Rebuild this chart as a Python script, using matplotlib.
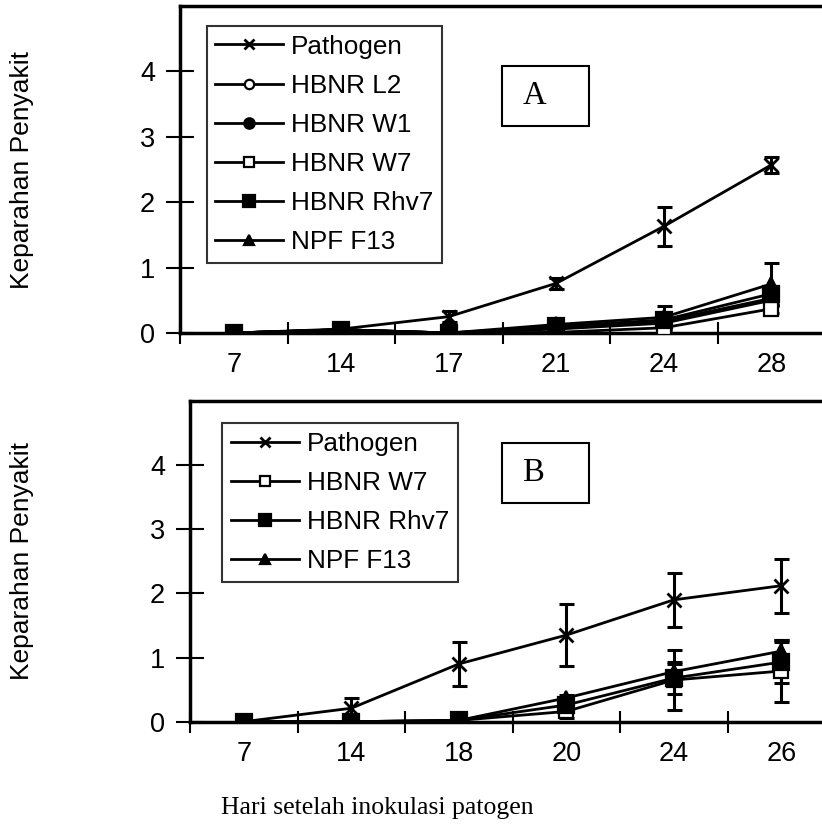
"""Keparahan penyakit vs hari setelah inokulasi patogen, dua panel (A, B)."""
import numpy as np
import matplotlib
matplotlib.use("Agg")
import matplotlib.pyplot as plt
from matplotlib.patches import Rectangle

plt.rcParams["font.family"] = ["Liberation Sans", "DejaVu Sans"]

# ---- panel A data ----
days_a = ["7", "14", "17", "21", "24", "28"]
pathogen_a = [0, 0.06, 0.25, 0.76, 1.63, 2.57]
pathogen_a_err = [0, 0.02, 0.08, 0.08, 0.30, 0.12]
l2_a = [0, 0.05, 0, 0.06, 0.15, 0.50]
l2_a_err = [0, 0, 0, 0.04, 0.06, 0.08]
w1_a = [0, 0.05, 0, 0.09, 0.18, 0.53]
w1_a_err = [0, 0, 0, 0.05, 0.08, 0.10]
w7_a = [0, 0.05, 0, 0.01, 0.08, 0.37]
w7_a_err = [0, 0, 0, 0.02, 0.04, 0.06]
rhv7_a = [0, 0.05, 0, 0.10, 0.20, 0.60]
rhv7_a_err = [0, 0, 0, 0.05, 0.08, 0.12]
f13_a = [0, 0.05, 0, 0.13, 0.24, 0.75]
f13_a_err = [0, 0, 0, 0.06, 0.18, 0.32]

# ---- panel B data ----
days_b = ["7", "14", "18", "20", "24", "26"]
pathogen_b = [0, 0.21, 0.90, 1.35, 1.90, 2.12]
pathogen_b_err = [0, 0.16, 0.35, 0.48, 0.42, 0.42]
w7_b = [0, 0, 0.02, 0.16, 0.65, 0.79]
w7_b_err = [0, 0, 0, 0.10, 0.47, 0.48]
rhv7_b = [0, 0, 0.02, 0.26, 0.68, 0.93]
rhv7_b_err = [0, 0, 0, 0.08, 0.25, 0.32]
f13_b = [0, 0, 0.02, 0.37, 0.78, 1.10]
f13_b_err = [0, 0, 0, 0.05, 0.12, 0.18]

STYLE = {  # marker, facecolor, size
    "Pathogen": ("x", "black", 10.5),
    "HBNR L2": ("o", "white", 9),
    "HBNR W1": ("o", "black", 10),
    "HBNR W7": ("s", "white", 10),
    "HBNR Rhv7": ("s", "black", 11),
    "NPF F13": ("^", "black", 10.5),
}


def draw_panel(ax, days, series, letter, leg_anchor, box_xy):
    x = np.arange(len(days))
    handles = []
    for name, (vals, err) in series.items():
        mk, fc, ms = STYLE[name]
        h, = ax.plot(x, vals, color="black", lw=2, marker=mk, ms=ms,
                     mfc=fc, mec="black", mew=1.6 if mk != "x" else 2,
                     label=name, zorder=3)
        handles.append(h)
        err = np.asarray(err)
        keep = err > 0
        ax.errorbar(x[keep], np.asarray(vals)[keep], yerr=err[keep], fmt="none",
                    ecolor="black", elinewidth=2.2, capsize=5.4, capthick=2.2,
                    zorder=2)
    ax.set_xlim(-0.5, len(days) - 0.5)
    ax.set_ylim(0, 5)
    ax.set_yticks([0, 1, 2, 3, 4])
    ax.set_xticks(np.arange(len(days) + 1) - 0.5)
    ax.set_xticklabels([])
    ax.set_xticks(x, minor=True)
    ax.set_xticklabels(days, minor=True)
    ax.tick_params(axis="x", which="major", direction="inout", length=16, width=1.5)
    ax.tick_params(axis="x", which="minor", length=0, pad=14, labelsize=19.5)
    ax.tick_params(axis="y", direction="inout", length=20, width=1.5, pad=8,
                   labelsize=19.5)
    for s in ax.spines.values():
        s.set_linewidth(2.5)
    leg = ax.legend(handles=handles, loc="upper left", bbox_to_anchor=leg_anchor,
                    bbox_transform=ax.figure.transFigure, fontsize=18.8,
                    frameon=True, fancybox=False, edgecolor="black",
                    handlelength=2.6, handletextpad=0.3, labelspacing=0.58,
                    borderpad=0.33, markerscale=0.75, borderaxespad=0)
    leg.get_frame().set_linewidth(1.5)
    fig = ax.figure
    W, H = fig.get_size_inches() * fig.dpi
    x0, y0, x1, y1 = box_xy
    fig.add_artist(Rectangle((x0 / W, 1 - y1 / H), (x1 - x0) / W, (y1 - y0) / H,
                             transform=fig.transFigure, fill=False,
                             edgecolor="black", lw=1.5))
    fig.text((x0 + 21) / W, 1 - (y0 + y1) / 2 / H, letter, ha="left", va="center",
             fontsize=23.5, family="Liberation Serif")


fig = plt.figure(figsize=(8.22, 8.25), dpi=100)
ax_a = fig.add_axes([180 / 822, 1 - 333 / 825, 645 / 822, 327 / 825])
ax_b = fig.add_axes([190 / 822, 1 - 721.7 / 825, 645 / 822, 320.7 / 825])

draw_panel(ax_a, days_a, {
    "Pathogen": (pathogen_a, pathogen_a_err),
    "HBNR L2": (l2_a, l2_a_err),
    "HBNR W1": (w1_a, w1_a_err),
    "HBNR W7": (w7_a, w7_a_err),
    "HBNR Rhv7": (rhv7_a, rhv7_a_err),
    "NPF F13": (f13_a, f13_a_err),
}, "A", (206.7 / 822, 1 - 26 / 825), (502, 66, 589, 126))

draw_panel(ax_b, days_b, {
    "Pathogen": (pathogen_b, pathogen_b_err),
    "HBNR W7": (w7_b, w7_b_err),
    "HBNR Rhv7": (rhv7_b, rhv7_b_err),
    "NPF F13": (f13_b, f13_b_err),
}, "B", (222.3 / 822, 1 - 423.3 / 825), (502, 443, 589, 503))

fig.text(22 / 822, 1 - 170 / 825, "Keparahan Penyakit", rotation=90,
         ha="center", va="center", fontsize=19)
fig.text(22 / 822, 1 - 561 / 825, "Keparahan Penyakit", rotation=90,
         ha="center", va="center", fontsize=19)
fig.text(377 / 822, 1 - 808 / 825, "Hari setelah inokulasi patogen",
         ha="center", va="center", fontsize=18.5, family="Liberation Serif")

fig.savefig("out.png", dpi=100)
